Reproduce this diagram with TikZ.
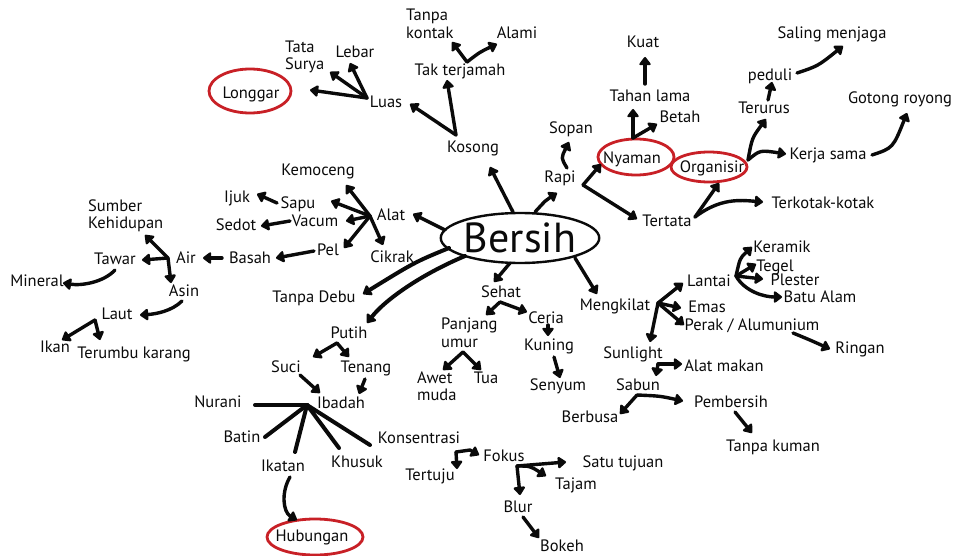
\documentclass[tikz,border=0pt]{standalone}
\usepackage{fontspec}
\setmainfont{PT Sans}
\usetikzlibrary{arrows.meta,shapes.geometric}
\definecolor{ink}{RGB}{10,10,10}
\definecolor{marker}{RGB}{200,32,38}
\begin{document}
\begin{tikzpicture}[x=1pt,y=-1pt,
  every node/.style={font=\fontsize{16.5}{17.5}\selectfont, inner sep=0pt, text=ink},
  word/.style={text height=11.5pt, text depth=0pt},
  stack/.style={align=left, anchor=west},
  arr/.style={draw=ink, line width=3.4pt, line cap=round, line join=round,
    -{Triangle[length=9pt,width=13pt,round]}},
  heavy/.style={arr, line width=4pt},
  spoke/.style={draw=ink, line width=4pt, line cap=round},
  ring/.style={draw=marker, line width=2.8pt},
]
\fill[white] (0,0) rectangle (957,556);
\useasboundingbox (0,0) rectangle (957,556);

% ---------- centre ----------
\node[ellipse, draw=ink, line width=2.4pt, minimum width=154pt, minimum height=50pt,
  font=\fontsize{42}{42}\selectfont] (bersih) at (520,238) {Bersih};

% ---------- upper left ----------
\node[stack] (tata) at (285,57) {Tata\\Surya};
\node[word] (lebar) at (355,52) {Lebar};
\node[word] (longgar) at (251,93) {Longgar};
\node[word] (luas) at (386,102) {Luas};
\node[stack] (tanpa) at (406,24) {Tanpa\\kontak};
\node[word] (alami) at (517,33) {Alami};
\node[word] (takter) at (460,70) {Tak terjamah};
\node[word] (kosong) at (473,147) {Kosong};

% ---------- cleaning tools ----------
\node[word] (kemoceng) at (318,170) {Kemoceng};
\node[word] (ijuk) at (237,197) {Ijuk};
\node[word] (sapu) at (298,203) {Sapu};
\node[word] (sedot) at (236,225) {Sedot};
\node[word] (vacum) at (315,221) {Vacum};
\node[word] (alat) at (391,215) {Alat};
\node[word] (pel) at (328,250) {Pel};
\node[word] (cikrak) at (392,257) {Cikrak};

% ---------- water ----------
\node[stack] (sumber) at (88,216) {Sumber\\Kehidupan};
\node[word] (tawar) at (115,259) {Tawar};
\node[word] (air) at (186,258) {Air};
\node[word] (basah) at (250,258) {Basah};
\node[word] (mineral) at (37,281) {Mineral};
\node[word] (asin) at (184,291) {Asin};
\node[word] (laut) at (117,314) {Laut};
\node[word] (ikan) at (55,347) {Ikan};
\node[word] (terumbu) at (134,353) {Terumbu karang};
\node[word] (tanpadebu) at (314,297) {Tanpa Debu};

% ---------- lower left ----------
\node[word] (putih) at (349,333) {Putih};
\node[word] (suci) at (286,367) {Suci};
\node[word] (tenang) at (366,367) {Tenang};
\node[word] (ibadah) at (341,403) {Ibadah};
\node[word] (nurani) at (218,402) {Nurani};
\node[word] (batin) at (242,437) {Batin};
\node[word] (konsentrasi) at (419,438) {Konsentrasi};
\node[word] (khusuk) at (357,462) {Khusuk};
\node[word] (ikatan) at (283,466) {Ikatan};
\node[word] (hubungan) at (312,536) {Hubungan};

% ---------- lower middle ----------
\node[word] (sehat) at (501,292) {Sehat};
\node[word] (ceria) at (546,318) {Ceria};
\node[stack] (panjang) at (441,333) {Panjang\\umur};
\node[word] (kuning) at (549,345) {Kuning};
\node[stack] (awet) at (417,386) {Awet\\muda};
\node[word] (tua) at (486,378) {Tua};
\node[word] (senyum) at (558,385) {Senyum};
\node[word] (tertuju) at (430,475) {Tertuju};
\node[word] (fokus) at (504,456) {Fokus};
\node[word] (satu) at (623,462) {Satu tujuan};
\node[word] (tajam) at (576,484) {Tajam};
\node[word] (blur) at (518,507) {Blur};
\node[word] (bokeh) at (562,546) {Bokeh};

% ---------- lower right ----------
\node[word] (mengkilat) at (615,305) {Mengkilat};
\node[word] (lantai) at (709,281) {Lantai};
\node[word] (emas) at (707,307) {Emas};
\node[word] (perak) at (752,325) {Perak / Alumunium};
\node[word] (keramik) at (782,247) {Keramik};
\node[word] (tegel) at (775,266) {Tegel};
\node[word] (plester) at (795,280) {Plester};
\node[word] (batu) at (820,297) {Batu Alam};
\node[word] (ringan) at (860,348) {Ringan};
\node[word] (sunlight) at (633,353) {Sunlight};
\node[word] (alatmakan) at (724,366) {Alat makan};
\node[word] (sabun) at (638,385) {Sabun};
\node[word] (berbusa) at (590,417) {Berbusa};
\node[word] (pembersih) at (731,402) {Pembersih};
\node[word] (tanpakuman) at (773,446) {Tanpa kuman};

% ---------- upper right ----------
\node[word] (sopan) at (571,128) {Sopan};
\node[word] (rapi) at (560,177) {Rapi};
\node[word] (nyaman) at (632,158) {Nyaman};
\node[word] (organisir) at (712,167) {Organisir};
\node[word] (tertata) at (667,221) {Tertata};
\node[word] (terkotak) at (823,203) {Terkotak-kotak};
\node[word] (kuat) at (643,42) {Kuat};
\node[word] (tahan) at (650,96) {Tahan lama};
\node[word] (betah) at (680,117) {Betah};
\node[word] (terurus) at (764,108) {Terurus};
\node[word] (peduli) at (770,75) {peduli};
\node[word] (saling) at (832,33) {Saling menjaga};
\node[word] (gotong) at (900,98) {Gotong royong};
\node[word] (kerja) at (828,154) {Kerja sama};

% ---------- red marker rings ----------
\draw[ring] ([shift={(-1,-2)}]longgar.center) ellipse (41 and 22);
\draw[ring] ([shift={(4,-1)}]nyaman.center) ellipse (38 and 18);
\draw[ring] ([shift={(-3,0)}]organisir.center) ellipse (38 and 15);
\draw[ring] ([shift={(3,1)}]hubungan.center) ellipse (48 and 18);

% ---------- branch points ----------
\coordinate (jKos) at (456,135);
\coordinate (jTak) at (467,62);
\coordinate (jLuas) at (367,98);
\coordinate (jAlat) at (370,216);
\coordinate (jAir) at (168,258);
\coordinate (jLaut) at (95,320);
\coordinate (jPutih) at (337,343);
\coordinate (jIbadah) at (307,405);
\coordinate (jSehat) at (500,302);
\coordinate (jPanjang) at (463,352);
\coordinate (jKons) at (456,452);
\coordinate (jFokus) at (517,466);
\coordinate (jMeng) at (658,303);
\coordinate (jLantai) at (736,276);
\coordinate (jSun) at (658,364);
\coordinate (jSabun) at (637,395);
\coordinate (jRapi) at (583,185);
\coordinate (jNyaman) at (633,138);
\coordinate (jTertata) at (695,217);
\coordinate (jOrg) at (748,160);

% ---------- from the centre ----------
\draw[arr] ([shift={(-7,-26)}]bersih.center) -- ([shift={(17,20)}]kosong.center);
\draw[arr] ([shift={(15,-26)}]bersih.center) .. controls (546,200) .. ([shift={(-3,16)}]rapi.center);
\draw[arr] ([shift={(-75,-8)}]bersih.center) -- ([shift={(22,-1)}]alat.center);
\draw[heavy] ([shift={(-71,10)}]bersih.center) .. controls (415,262) .. ([shift={(49,-3)}]tanpadebu.center);
\draw[heavy] ([shift={(-55,18)}]bersih.center) .. controls (420,275) and (385,300) .. ([shift={(18,-10)}]putih.center);
\draw[arr] ([shift={(-10,25)}]bersih.center) -- ([shift={(-7,-10)}]sehat.center);
\draw[arr] ([shift={(55,20)}]bersih.center) -- ([shift={(-18,-11)}]mengkilat.center);

% ---------- Kosong ----------
\draw[arr] (jKos) -- ([shift={(24,2)}]luas.center);
\draw[arr] (jKos) -- ([shift={(-13,10)}]takter.center);
\draw[arr] (jTak) -- ([shift={(46,18)}]tanpa.west);
\draw[arr] (jTak) .. controls (480,52) .. ([shift={(-20,11)}]alami.center);
\draw[arr] (jLuas) -- ([shift={(59,-3)}]longgar.center);
\draw[arr] (jLuas) -- ([shift={(45,15)}]tata.west);
\draw[arr] (jLuas) -- ([shift={(-5,11)}]lebar.center);

% ---------- Alat ----------
\draw[arr] (jAlat) -- ([shift={(28,15)}]kemoceng.center);
\draw[arr] (jAlat) -- ([shift={(33,-2)}]sapu.center);
\draw[arr] (jAlat) -- ([shift={(31,0)}]vacum.center);
\draw[arr] (jAlat) -- ([shift={(16,-2)}]pel.center);
\draw[arr] (jAlat) -- ([shift={(-9,-12)}]cikrak.center);
\draw[arr] ([shift={(-21,0)}]sapu.center) -- ([shift={(20,-3)}]ijuk.center);
\draw[arr] ([shift={(-25,0)}]vacum.center) -- ([shift={(25,1)}]sedot.center);
\draw[arr] ([shift={(-14,1)}]pel.center) -- ([shift={(26,0)}]basah.center);
\draw[arr] ([shift={(-28,0)}]basah.center) -- ([shift={(17,0)}]air.center);

% ---------- Air ----------
\draw[arr] (jAir) -- ([shift={(57,19)}]sumber.west);
\draw[arr] (jAir) -- ([shift={(27,1)}]tawar.center);
\draw[arr] (jAir) -- ([shift={(-13,-8)}]asin.center);
\draw[arr] ([shift={(0,11)}]tawar.center) .. controls (104,282) and (82,286) .. ([shift={(26,2)}]mineral.center);
\draw[arr] ([shift={(-2,10)}]asin.center) .. controls (172,311) and (156,314) .. ([shift={(23,1)}]laut.center);
\draw[arr] (jLaut) -- ([shift={(7,-7)}]ikan.center);
\draw[arr] (jLaut) -- ([shift={(-34,-13)}]terumbu.center);

% ---------- Putih / Ibadah ----------
\draw[arr] (jPutih) -- ([shift={(27,-10)}]suci.center);
\draw[arr] (jPutih) -- ([shift={(-17,-10)}]tenang.center);
\draw[arr] ([shift={(14,8)}]suci.center) -- ([shift={(-21,-10)}]ibadah.center);
\draw[arr] ([shift={(-1,12)}]tenang.center) -- ([shift={(18,-9)}]ibadah.center);
\draw[spoke] (jIbadah) -- ([shift={(37,3)}]nurani.center);
\draw[spoke] (jIbadah) -- ([shift={(23,0)}]batin.center);
\draw[spoke] (jIbadah) -- ([shift={(12,-14)}]ikatan.center);
\draw[spoke] (jIbadah) -- ([shift={(-18,-14)}]khusuk.center);
\draw[spoke] (jIbadah) -- ([shift={(-49,7)}]konsentrasi.center);
\draw[arr] ([shift={(7,11)}]ikatan.center) .. controls (281,492) and (283,512) .. ([shift={(-15,-16)}]hubungan.center);

% ---------- Sehat ----------
\draw[arr] (jSehat) -- ([shift={(45,-18)}]panjang.west);
\draw[arr] (jSehat) -- ([shift={(-19,-6)}]ceria.center);
\draw[arr] ([shift={(2,7)}]ceria.center) -- ([shift={(-1,-9)}]kuning.center);
\draw[arr] ([shift={(5,12)}]kuning.center) -- ([shift={(2,-7)}]senyum.center);
\draw[arr] (jPanjang) -- ([shift={(26,-16)}]awet.west);
\draw[arr] (jPanjang) -- ([shift={(-5,-8)}]tua.center);

% ---------- Konsentrasi / Fokus ----------
\draw[arr] (jKons) -- ([shift={(27,-6)}]tertuju.center);
\draw[arr] (jKons) -- (470,450) -- ([shift={(-25,-1)}]fokus.center);
\draw[arr] (jFokus) -- ([shift={(-57,0)}]satu.center);
\draw[arr] (jFokus) .. controls (530,466) .. ([shift={(-30,-8)}]tajam.center);
\draw[arr] (jFokus) -- ([shift={(2,-12)}]blur.center);
\draw[arr] ([shift={(5,10)}]blur.center) -- ([shift={(-23,-8)}]bokeh.center);

% ---------- Mengkilat ----------
\draw[arr] (jMeng) -- ([shift={(-26,2)}]lantai.center);
\draw[arr] (jMeng) -- ([shift={(-26,1)}]emas.center);
\draw[arr] (jMeng) -- ([shift={(-68,0)}]perak.center);
\draw[arr] (jMeng) -- ([shift={(17,-11)}]sunlight.center);
\draw[arr] (jLantai) .. controls (740,258) .. ([shift={(-30,0)}]keramik.center);
\draw[arr] (jLantai) -- ([shift={(-19,-2)}]tegel.center);
\draw[arr] (jLantai) -- ([shift={(-32,-1)}]plester.center);
\draw[arr] (jLantai) .. controls (745,292) and (765,297) .. ([shift={(-38,0)}]batu.center);
\draw[arr] ([shift={(41,8)}]perak.center) .. controls (810,340) .. ([shift={(-30,1)}]ringan.center);
\draw[arr] (jSun) -- ([shift={(18,-9)}]sabun.center);
\draw[arr] (jSun) -- ([shift={(-42,-2)}]alatmakan.center);
\draw[arr] (jSabun) -- ([shift={(30,-3)}]berbusa.center);
\draw[arr] (jSabun) .. controls (660,396) .. ([shift={(-48,-1)}]pembersih.center);
\draw[arr] ([shift={(4,10)}]pembersih.center) -- ([shift={(-21,-13)}]tanpakuman.center);

% ---------- Rapi ----------
\draw[arr] (jRapi) -- ([shift={(-31,6)}]nyaman.center);
\draw[arr] (jRapi) -- ([shift={(-30,-2)}]tertata.center);
\draw[arr] ([shift={(7,-9)}]rapi.center) .. controls (561,158) .. ([shift={(-2,14)}]sopan.center);
\draw[arr] (jNyaman) -- ([shift={(-17,13)}]tahan.center);
\draw[arr] (jNyaman) -- ([shift={(-23,7)}]betah.center);
\draw[arr] ([shift={(-5,-12)}]tahan.center) -- ([shift={(2,15)}]kuat.center);
\draw[arr] (jTertata) -- ([shift={(7,16)}]organisir.center);
\draw[arr] (jTertata) .. controls (720,198) and (740,200) .. ([shift={(-60,-1)}]terkotak.center);
\draw[arr] (jOrg) .. controls (752,138) .. ([shift={(2,11)}]terurus.center);
\draw[arr] (jOrg) .. controls (760,150) .. ([shift={(-42,0)}]kerja.center);
\draw[arr] ([shift={(4,-8)}]terurus.center) -- ([shift={(2,7)}]peduli.center);
\draw[arr] ([shift={(27,-2)}]peduli.center) .. controls (818,66) .. ([shift={(11,13)}]saling.center);
\draw[arr] ([shift={(44,1)}]kerja.center) .. controls (893,148) .. ([shift={(7,15)}]gotong.center);
\end{tikzpicture}
\end{document}
